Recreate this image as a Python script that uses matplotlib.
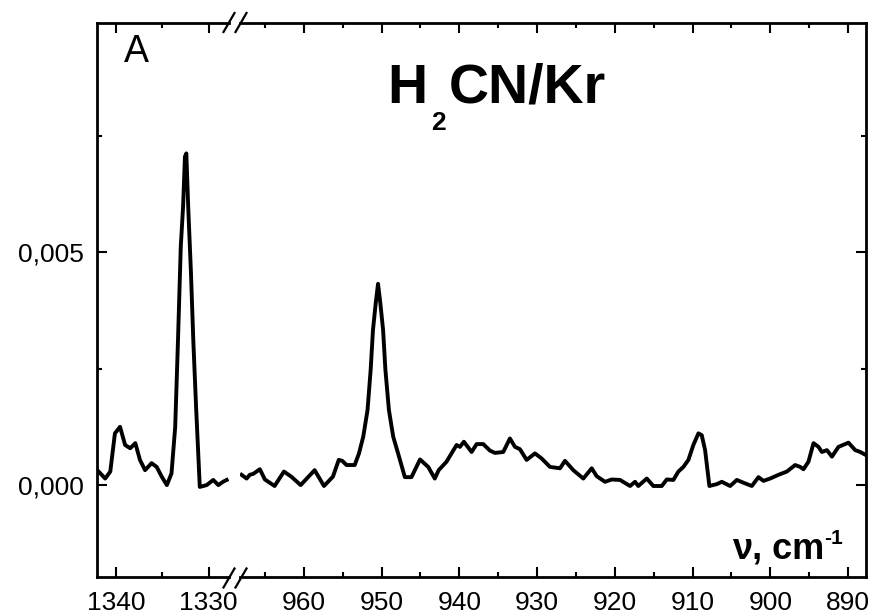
import matplotlib
matplotlib.use('Agg')
import matplotlib.pyplot as plt
from matplotlib.lines import Line2D
from matplotlib.ticker import MultipleLocator

plt.rcParams['font.family'] = ['Liberation Sans', 'DejaVu Sans']

# H2CN/Kr spectrum, high frequency window (cm-1, absorbance)
nu_hi = [1342.0, 1341.15, 1340.6, 1340.1, 1339.55, 1339.0, 1338.45, 1337.9, 1337.4,
         1336.85, 1336.15, 1335.6, 1335.05, 1334.5, 1334.0, 1333.6, 1333.3, 1333.0,
         1332.75, 1332.55, 1332.4, 1332.2, 1331.9, 1331.65, 1331.35, 1330.95, 1330.2,
         1329.5, 1328.95, 1328.45, 1328.05]
abs_hi = [0.00032, 0.00014, 0.00029, 0.00111, 0.00125, 0.00086, 0.00079, 0.00090, 0.00054,
          0.00032, 0.00047, 0.00039, 0.00018, 0.00000, 0.00025, 0.00125, 0.00311, 0.00512,
          0.00598, 0.00705, 0.00712, 0.00598, 0.00455, 0.00311, 0.00168, -0.00004, 0.00000,
          0.00011, 0.00000, 0.00007, 0.00011]

# low frequency window
nu_lo = [968.0, 967.35, 966.95, 966.5, 965.65, 965.0, 963.75, 962.55, 961.6, 960.4,
         958.6, 957.4, 956.25, 955.5, 955.05, 954.5, 953.45, 952.9, 952.35, 951.8,
         951.4, 951.1, 950.75, 950.45, 950.15, 949.8, 949.5, 949.05, 948.5, 947.75,
         947.0, 946.15, 945.05, 944.0, 943.15, 942.65, 941.65, 940.35, 939.92, 939.41,
         938.42, 937.77, 936.92, 936.06, 935.42, 934.35, 933.49, 932.84, 932.2, 931.34,
         930.27, 929.41, 928.34, 927.05, 926.41, 925.34, 924.05, 922.97, 922.33, 921.26,
         920.4, 919.33, 918.04, 917.4, 916.98, 915.89, 915.05, 913.96, 913.32, 912.47,
         911.83, 911.18, 910.54, 909.9, 909.25, 908.82, 908.39, 907.84, 906.89, 906.24,
         905.17, 904.31, 903.46, 902.38, 901.53, 900.89, 900.03, 898.96, 897.88, 896.81,
         896.17, 895.74, 895.1, 894.45, 893.81, 893.37, 892.73, 892.08, 891.24, 889.95,
         889.09, 888.44, 887.67]
abs_lo = [0.00022, 0.00014, 0.00022, 0.00024, 0.00034, 0.00012, -0.00002, 0.00029, 0.00018, 0.00000,
          0.00032, -0.00002, 0.00018, 0.00054, 0.00052, 0.00043, 0.00043, 0.00068, 0.00104, 0.00161,
          0.00247, 0.00333, 0.00390, 0.00432, 0.00390, 0.00333, 0.00247, 0.00161, 0.00104, 0.00061,
          0.00017, 0.00017, 0.00055, 0.00039, 0.00014, 0.00032, 0.00050, 0.00086, 0.00082, 0.00093,
          0.00071, 0.00088, 0.00088, 0.00074, 0.00069, 0.00071, 0.00100, 0.00082, 0.00077, 0.00054,
          0.00068, 0.00057, 0.00039, 0.00036, 0.00052, 0.00032, 0.00014, 0.00036, 0.00019, 0.00007,
          0.00012, 0.00011, -0.00002, 0.00007, -0.00002, 0.00014, -0.00002, -0.00002, 0.00012, 0.00011,
          0.00029, 0.00039, 0.00054, 0.00086, 0.00111, 0.00107, 0.00075, -0.00002, 0.00002, 0.00007,
          -0.00002, 0.00011, 0.00005, -0.00002, 0.00017, 0.00009, 0.00014, 0.00022, 0.00029, 0.00043,
          0.00039, 0.00034, 0.00050, 0.00090, 0.00082, 0.00071, 0.00075, 0.00061, 0.00082, 0.00091,
          0.00075, 0.00071, 0.00064]

xticks_hi = [1340, 1330]
xticks_lo = [960, 950, 940, 930, 920, 910, 900, 890]
yticks = [0.0, 0.005]
ytick_labels = ['0,000', '0,005']

W, H = 875, 616
fig = plt.figure(figsize=(W / 100, H / 100), dpi=100)


def px_rect(x0, y0, x1, y1):
    return [x0 / W, 1 - y1 / H, (x1 - x0) / W, (y1 - y0) / H]


ax1 = fig.add_axes(px_rect(97.3, 22.5, 229, 577.3))
ax2 = fig.add_axes(px_rect(240, 22.5, 866, 577.3))

ax1.plot(nu_hi, abs_hi, color='black', lw=2.8)
ax2.plot(nu_lo, abs_lo, color='black', lw=2.8)

ax1.set_xlim(1342.0, 1327.8)
ax2.set_xlim(968.2, 887.7)

for ax in (ax1, ax2):
    ax.set_ylim(-0.00198, 0.00993)
    ax.set_yticks(yticks)
    ax.yaxis.set_minor_locator(MultipleLocator(0.0025))
    ax.xaxis.set_minor_locator(MultipleLocator(5))
    for s in ax.spines.values():
        s.set_linewidth(2.0)
    ax.tick_params(which='both', direction='in', width=1.5, top=True, labelsize=19)
    ax.tick_params(which='major', length=7.5)
    ax.tick_params(which='minor', length=3.8)
    ax.tick_params(axis='x', pad=10)

ax1.set_xticks(xticks_hi)
ax2.set_xticks(xticks_lo)
ax1.set_yticklabels(ytick_labels)
ax1.tick_params(axis='y', pad=10)

ax1.spines['right'].set_visible(False)
ax1.tick_params(which='both', right=False)
ax2.spines['left'].set_visible(False)
ax2.tick_params(which='both', left=False, labelleft=False, right=True)

# break marks "//" on the top and bottom axis
for xc in (229, 241):
    for yc in (22.5, 578):
        fig.add_artist(Line2D([(xc - 5.5) / W, (xc + 5.5) / W],
                              [1 - (yc + 9.5) / H, 1 - (yc - 9.5) / H],
                              transform=fig.transFigure, color='black', lw=1.6))

fig.text(136 / W, 1 - 52 / H, 'A', fontsize=27, ha='center', va='center')

# title with subscript
t1 = fig.text(387 / W, 1 - 103 / H, 'H', fontsize=40, fontweight='bold',
              ha='left', va='baseline')
t2 = ax2.annotate('2', xy=(1, 0), xycoords=t1, xytext=(3, 3), textcoords='offset points',
                  ha='left', va='top', fontsize=19, fontweight='bold', annotation_clip=False)
ax2.annotate('CN/Kr', xy=(1, 0), xycoords=(t2, t1), xytext=(2, 0), textcoords='offset points',
             ha='left', va='bottom', fontsize=40, fontweight='bold', annotation_clip=False)

# axis label
t4 = fig.text(732 / W, 1 - 559 / H, 'ν, cm', fontsize=26, fontweight='bold',
              ha='left', va='baseline')
ax2.annotate('-1', xy=(1, 1), xycoords=t4, xytext=(0, 2), textcoords='offset points',
             ha='left', va='top', fontsize=15, fontweight='bold', annotation_clip=False)

fig.savefig('out.png', dpi=100)
